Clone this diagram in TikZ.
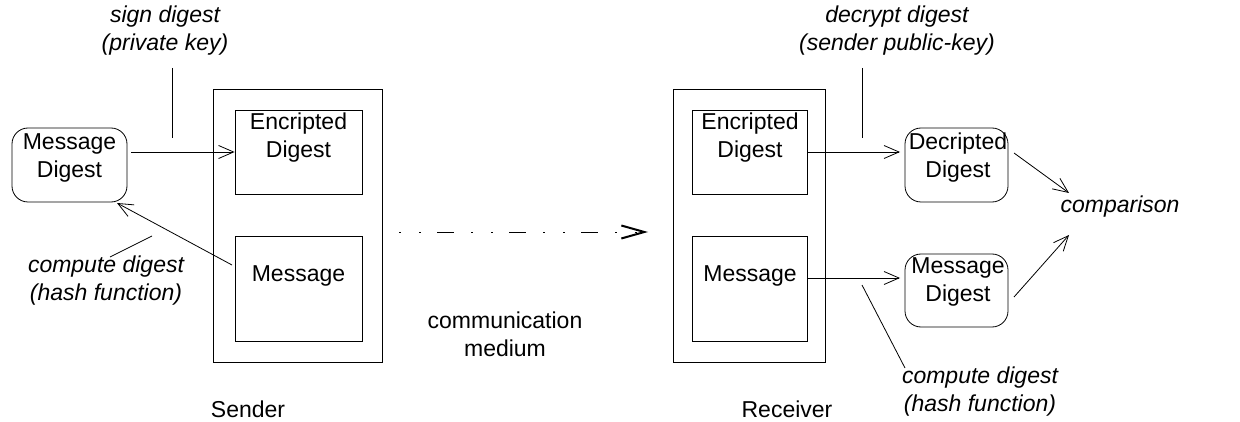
\documentclass[tikz,border=0pt]{standalone}
\usepackage{fontspec}
\setmainfont{Liberation Sans}
\usetikzlibrary{arrows.meta}
\begin{document}
\begin{tikzpicture}[x=1pt,y=-1pt,
  every node/.style={font=\fontsize{23}{28}\selectfont, inner sep=0pt, align=center},
  box/.style={draw, line width=0.8pt, rectangle},
  rbox/.style={draw, line width=0.8pt, rectangle, rounded corners=16pt},
  lbl/.style={font=\fontsize{23}{28}\selectfont\itshape},
  conn/.style={line width=0.8pt, -{Straight Barb[length=15pt,width=13pt,line width=0.8pt]}},
  pointer/.style={line width=0.8pt}
]
\useasboundingbox (0,0) rectangle (1240,422);
% sender side
\node[box, minimum width=169pt, minimum height=273pt] (sbox) at (297.5,225.5) {};
\node[box, minimum width=127pt, minimum height=84pt] (sEnc) at (298.5,152) {};
\node[box, minimum width=127pt, minimum height=105pt] (sMsg) at (298.5,288.5) {};
\node[rbox, minimum width=115pt, minimum height=74pt] (sMD) at (69.5,165) {};
\node (sEncT) at (298.5,137.5) {Encripted\\Digest};
\node (sMsgT) at (298.5,276) {Message};
\node (sMDT) at (69.5,158) {Message\\Digest};
% receiver side
\node[box, minimum width=152pt, minimum height=273pt] (rbox) at (749,225.5) {};
\node[box, minimum width=115pt, minimum height=84pt] (rEnc) at (749.5,152) {};
\node[box, minimum width=115pt, minimum height=105pt] (rMsg) at (749.5,288.5) {};
\node[rbox, minimum width=103pt, minimum height=74pt] (rDD) at (956.5,165) {};
\node[rbox, minimum width=103pt, minimum height=73pt] (rMD) at (956.5,290.5) {};
\node (rEncT) at (750,137.5) {Encripted\\Digest};
\node (rMsgT) at (750,276) {Message};
\node (rDDT) at (958,158) {Decripted\\Digest};
\node (rMDT) at (958,282) {Message\\Digest};
% labels
\node[lbl] (sign) at (165,31) {sign digest\\(private key)};
\node[lbl] (decr) at (897,31) {decrypt digest\\(sender public-key)};
\node[lbl] (compL) at (106,281) {compute digest\\(hash function)};
\node[lbl] (compR) at (980,392) {compute digest\\(hash function)};
\node[lbl] (cmp) at (1120,207) {comparison};
\node (comm) at (505,334) {communication\\medium};
\node (sender) at (248,409) {Sender};
\node (receiver) at (787,409) {Receiver};
% coordinates
\coordinate (a1s) at (131,152);
\coordinate (a2s) at (232,265);
\coordinate (a2e) at (117,203);
\coordinate (a3e) at (900,152);
\coordinate (a4s) at (807,278);
\coordinate (a4e) at (900,278);
\coordinate (c1s) at (1014,153);
\coordinate (c1e) at (1069,193);
\coordinate (c2s) at (1014,297);
\coordinate (c2e) at (1069,235);
\coordinate (p1s) at (172,68);
\coordinate (p1e) at (172,138);
\coordinate (p2s) at (110,257);
\coordinate (p2e) at (152,236);
\coordinate (p3s) at (862,68);
\coordinate (p3e) at (862,138);
\coordinate (p4s) at (862,285);
\coordinate (p4e) at (905,368);
\coordinate (m1) at (399,232);
\coordinate (m2) at (648,232);
% connectors
\draw[conn] (a1s) -- (sEnc.west);
\draw[conn] (a2s) -- (a2e);
\draw[conn] (rEnc.east) -- (a3e);
\draw[conn] (a4s) -- (a4e);
\draw[conn] (c1s) -- (c1e);
\draw[conn] (c2s) -- (c2e);
\draw[pointer] (p1s) -- (p1e);
\draw[pointer] (p2s) -- (p2e);
\draw[pointer] (p3s) -- (p3e);
\draw[pointer] (p4s) -- (p4e);
\draw[line width=0.8pt, dash pattern=on 1.5pt off 18.5pt on 1.5pt off 16.5pt on 17pt off 17pt,
  -{Straight Barb[length=23pt,width=13pt,line width=2pt]}] (m1) -- (m2);
\end{tikzpicture}
\end{document}
